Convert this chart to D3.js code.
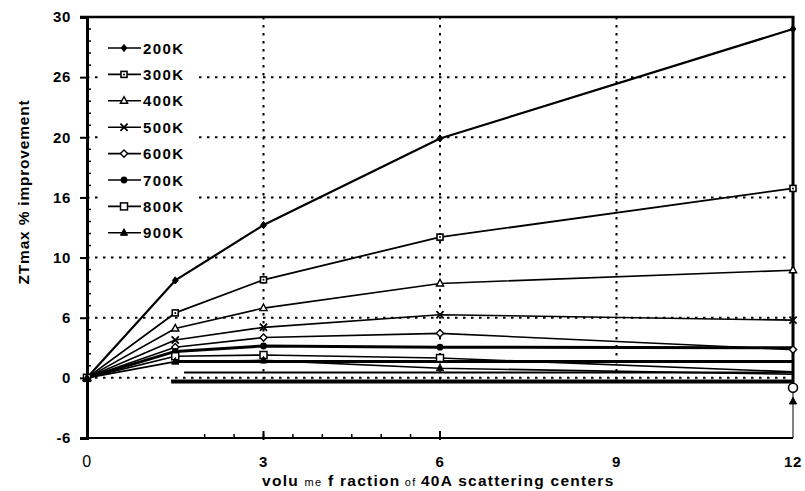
<!DOCTYPE html>
<html>
<head>
<meta charset="utf-8">
<script src="https://cdn.jsdelivr.net/npm/d3@7"></script>
<style>
  html, body { margin: 0; padding: 0; background: #fff; }
  svg { display: block; font-family: "Liberation Sans", Arial, sans-serif; }
</style>
</head>
<body>
<svg id="chart" width="805" height="491"></svg>
<script>
// Volume fractions (x) at which ZTmax improvement was computed
const fractions = [0, 1.5, 3, 6, 12];

// % improvement of ZTmax per temperature
const temps = ["200K", "300K", "400K", "500K", "600K", "700K", "800K", "900K"];
const imp200 = [0, 8.1, 12.7, 19.9, 29.0];
const imp300 = [0, 5.4, 8.15, 11.7, 15.75];
const imp400 = [0, 4.1, 5.8, 7.85, 8.95];
const imp500 = [0, 3.15, 4.2, 5.25, 4.8];
const imp600 = [0, 2.55, 3.35, 3.7, 2.35];
const imp700 = [0, 2.2, 2.65, 2.55, 2.5];
const imp800 = [0, 1.8, 1.9, 1.65, 0.5];
const imp900 = [0, 1.35, 1.45, 0.8, 0.3];
const improvements = [imp200, imp300, imp400, imp500, imp600, imp700, imp800, imp900];

// Points plotted below the zero line at the largest fraction
const lowX = [12, 12];
const lowV = [-0.82, -1.96];

// Flat guide rules running across the lower part of the plot
const ruleStart = [1.46, 1.65, 1.43];
const ruleValue = [1.35, 0.45, -0.3];

// Axis ticks and their printed labels
const xTicks = [0, 3, 6, 9, 12];
const xTickLabels = ["0", "3", "6", "9", "12"];
const yTicks = [-5, 0, 5, 10, 15, 20, 25, 30];
const yTickLabels = ["-6", "0", "6", "10", "16", "20", "26", "30"];
const gridY = [25, 20, 15, 10, 5, 0];
const gridX = [3, 6, 9];

const svg = d3.select("#chart");
const x = d3.scaleLinear().domain([0, 12]).range([87, 793]);
const y = d3.scaleLinear().domain([-5, 30]).range([438, 17]);

const ink = "#000";

// ---- grid (dotted) ----
const grid = svg.append("g");
grid.selectAll("line.gy").data(gridY).join("line")
  .attr("x1", x(0)).attr("x2", x(12) - 3)
  .attr("y1", d => y(d)).attr("y2", d => y(d))
  .attr("stroke", ink).attr("stroke-width", 2)
  .attr("stroke-dasharray", "2.5,5.5");
grid.selectAll("line.gx").data(gridX).join("line")
  .attr("x1", d => x(d)).attr("x2", d => x(d))
  .attr("y1", y(30)).attr("y2", y(-0.5))
  .attr("stroke", ink).attr("stroke-width", 2)
  .attr("stroke-dasharray", "2.5,5.5");

// ---- flat rules ----
const ruleWidth = [3, 2, 4];
svg.append("g").selectAll("line").data(ruleValue).join("line")
  .attr("x1", (d, i) => x(ruleStart[i])).attr("x2", x(12))
  .attr("y1", d => y(d)).attr("y2", d => y(d))
  .attr("stroke", ink).attr("stroke-width", (d, i) => ruleWidth[i]);

// ---- frame and axes ----
const frame = svg.append("g");
// top border
frame.append("line").attr("x1", x(0) - 7).attr("x2", x(12) + 1.5)
  .attr("y1", y(30)).attr("y2", y(30)).attr("stroke", ink).attr("stroke-width", 2.5);
// right border: heavy above the zero line, thin below
frame.append("line").attr("x1", x(12)).attr("x2", x(12))
  .attr("y1", y(30)).attr("y2", y(-0.55)).attr("stroke", ink).attr("stroke-width", 3);
frame.append("line").attr("x1", x(12)).attr("x2", x(12))
  .attr("y1", y(-0.55)).attr("y2", y(-5)).attr("stroke", ink).attr("stroke-width", 1);
// bottom axis
frame.append("line").attr("x1", x(0)).attr("x2", x(12))
  .attr("y1", y(-5)).attr("y2", y(-5)).attr("stroke", ink).attr("stroke-width", 2);
const xMinor = d3.range(2, 6.01, 0.5);
frame.selectAll("line.xm").data(xMinor).join("line")
  .attr("x1", d => x(d)).attr("x2", d => x(d))
  .attr("y1", y(-5) - 4).attr("y2", y(-5))
  .attr("stroke", ink).attr("stroke-width", 1.5);
frame.selectAll("line.xM").data([3, 6]).join("line")
  .attr("x1", d => x(d)).attr("x2", d => x(d))
  .attr("y1", y(-5) - 7).attr("y2", y(-5) + 2)
  .attr("stroke", ink).attr("stroke-width", 2);

// left axis via d3.axisLeft
const yAxis = d3.axisLeft(y).tickValues(yTicks)
  .tickFormat((d, i) => yTickLabels[i]).tickSize(7).tickPadding(9);
const gy = svg.append("g").attr("transform", `translate(${x(0)},0)`).call(yAxis);
gy.select(".domain").attr("stroke", ink).attr("stroke-width", 3);
gy.selectAll(".tick line").attr("stroke", ink).attr("stroke-width", 2);
gy.selectAll(".tick text")
  .attr("font-family", "Liberation Sans, Arial, sans-serif")
  .attr("font-size", 15).attr("font-weight", "bold")
  .attr("letter-spacing", 0.6).attr("fill", ink);
// minor ticks inside the left axis
const yMinor = d3.range(0, 30).filter(d => d % 5 !== 0);
svg.append("g").selectAll("line").data(yMinor).join("line")
  .attr("x1", x(0)).attr("x2", x(0) + 4)
  .attr("y1", d => y(d)).attr("y2", d => y(d))
  .attr("stroke", ink).attr("stroke-width", 1.5);

// bottom tick labels
svg.append("g").selectAll("text").data(xTicks).join("text")
  .attr("x", d => x(d)).attr("y", 467)
  .attr("text-anchor", "middle")
  .attr("font-size", (d, i) => i === 0 ? 16 : 15)
  .attr("font-weight", (d, i) => i === 0 ? "normal" : "bold")
  .attr("letter-spacing", 0.6)
  .attr("fill", ink)
  .text((d, i) => xTickLabels[i]);

// ---- markers ----
function marker(g, kind, cx, cy) {
  const s = 3.6;
  switch (kind) {
    case "diamondFill":
      g.append("path").attr("d", `M${cx},${cy - s}L${cx + s * 0.8},${cy}L${cx},${cy + s}L${cx - s * 0.8},${cy}Z`)
        .attr("fill", ink).attr("stroke", ink).attr("stroke-width", 1);
      break;
    case "squareSmall":
      g.append("rect").attr("x", cx - 3).attr("y", cy - 3).attr("width", 6).attr("height", 6)
        .attr("fill", "#fff").attr("stroke", ink).attr("stroke-width", 1.6);
      g.append("circle").attr("cx", cx).attr("cy", cy).attr("r", 1).attr("fill", ink);
      break;
    case "triangleOpen":
      g.append("path").attr("d", `M${cx},${cy - s - 0.5}L${cx + s},${cy + s * 0.7}L${cx - s},${cy + s * 0.7}Z`)
        .attr("fill", "#fff").attr("stroke", ink).attr("stroke-width", 1.4);
      break;
    case "cross":
      g.append("path").attr("d", `M${cx - s},${cy - s}L${cx + s},${cy + s}M${cx + s},${cy - s}L${cx - s},${cy + s}`)
        .attr("stroke", ink).attr("stroke-width", 1.8);
      break;
    case "diamondOpen":
      g.append("path").attr("d", `M${cx},${cy - s}L${cx + s},${cy}L${cx},${cy + s}L${cx - s},${cy}Z`)
        .attr("fill", "#fff").attr("stroke", ink).attr("stroke-width", 1.4);
      break;
    case "circleFill":
      g.append("circle").attr("cx", cx).attr("cy", cy).attr("r", 3.4).attr("fill", ink);
      break;
    case "squareOpen":
      g.append("rect").attr("x", cx - 3.5).attr("y", cy - 3.5).attr("width", 7).attr("height", 7)
        .attr("fill", "#fff").attr("stroke", ink).attr("stroke-width", 1.5);
      break;
    case "triangleFill":
      g.append("path").attr("d", `M${cx},${cy - s - 0.5}L${cx + s},${cy + s * 0.7}L${cx - s},${cy + s * 0.7}Z`)
        .attr("fill", ink).attr("stroke", ink).attr("stroke-width", 1);
      break;
    case "circleOpen":
      g.append("circle").attr("cx", cx).attr("cy", cy).attr("r", 4.5)
        .attr("fill", "#fff").attr("stroke", ink).attr("stroke-width", 1.6);
      break;
  }
}

const markerKinds = ["diamondFill", "squareSmall", "triangleOpen", "cross",
  "diamondOpen", "circleFill", "squareOpen", "triangleFill"];
const lineWidths = [2.2, 1.8, 1.6, 1.6, 1.6, 3, 1.6, 1.6];

// ---- series ----
const line = d3.line().x((d, i) => x(fractions[i])).y(d => y(d));
const series = svg.append("g");
improvements.forEach((vals, k) => {
  series.append("path").datum(vals).attr("d", line)
    .attr("fill", "none").attr("stroke", ink)
    .attr("stroke-width", lineWidths[k]).attr("stroke-linejoin", "round");
});
improvements.forEach((vals, k) => {
  const g = series.append("g");
  vals.forEach((v, i) => {
    if (i === vals.length - 1 && k >= 5) return; // last points sit on the heavy border
    marker(g, markerKinds[k], x(fractions[i]), y(v));
  });
});
// points below the zero line at x = 12
const lowKinds = ["circleOpen", "triangleFill"];
lowV.forEach((v, i) => marker(series.append("g"), lowKinds[i], x(lowX[i]), y(v)));

// ---- legend ----
const legend = svg.append("g");
legend.append("rect").attr("x", 101).attr("y", 34).attr("width", 94).attr("height", 210).attr("fill", "#fff");
temps.forEach((t, k) => {
  const ly = 48 + k * 26.4;
  legend.append("line").attr("x1", 108).attr("x2", 141).attr("y1", ly).attr("y2", ly)
    .attr("stroke", ink).attr("stroke-width", 1.6);
  marker(legend, markerKinds[k], 124, ly);
  legend.append("text").attr("x", 143).attr("y", ly + 5.5)
    .attr("font-size", 15).attr("font-weight", "bold").attr("letter-spacing", 1.4)
    .attr("fill", ink).text(t);
});

// ---- axis titles ----
const xt = svg.append("text").attr("x", 262).attr("y", 486).attr("fill", ink)
  .attr("font-size", 15.5).attr("font-weight", "bold");
xt.append("tspan").text("volu ");
xt.append("tspan").attr("font-size", 11).attr("font-weight", "normal").text("me");
xt.append("tspan").text(" f raction");
xt.append("tspan").attr("font-size", 11).attr("font-weight", "normal").text(" of ");
xt.append("tspan").text("40A  scattering centers");
// spread the title so it runs from x=262 to about x=616
{
  const node = xt.node();
  const natural = node.getComputedTextLength();
  const chars = node.textContent.length;
  const spacing = Math.max(0, (354 - natural) / chars);
  xt.attr("letter-spacing", spacing.toFixed(2));
}

svg.append("text")
  .attr("transform", "translate(29,192) rotate(-90)")
  .attr("text-anchor", "middle").attr("fill", ink)
  .attr("font-size", 15.5).attr("font-weight", "bold").attr("letter-spacing", 0.8)
  .text("ZTmax % improvement");
</script>
</body>
</html>
